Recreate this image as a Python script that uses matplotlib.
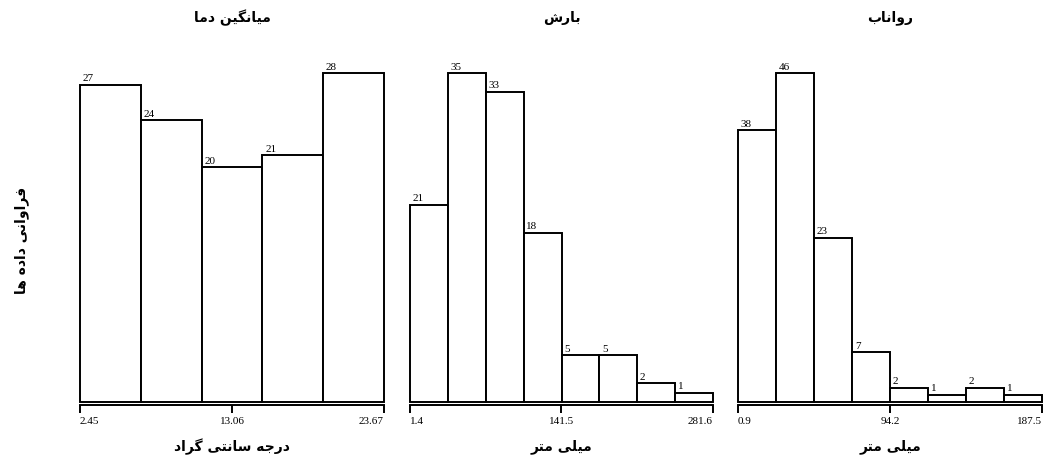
import numpy as np
import matplotlib.pyplot as plt

# Data
titles = ['میانگین دما', 'بارش', 'رواناب']
xlabels = ['درجه سانتی گراد', 'میلی متر', 'میلی متر']
ylabel = 'فراوانی داده ها'

temp_counts = [27, 24, 20, 21, 28]
rain_counts = [21, 35, 33, 18, 5, 5, 2, 1]
runoff_counts = [38, 46, 23, 7, 2, 1, 2, 1]

temp_range = [2.45, 23.67]
rain_range = [1.4, 281.6]
runoff_range = [0.9, 187.5]

temp_ticks = ['2.45', '13.06', '23.67']
rain_ticks = ['1.4', '141.5', '281.6']
runoff_ticks = ['0.9', '94.2', '187.5']

# minimal arabic shaping (matplotlib has no complex text layout)
# char: (isolated, final, initial, medial) ; None = does not join to next
FORMS = {
    'ا': (0xFE8D, 0xFE8E, None, None),
    'ب': (0xFE8F, 0xFE90, 0xFE91, 0xFE92),
    'ت': (0xFE95, 0xFE96, 0xFE97, 0xFE98),
    'ج': (0xFE9D, 0xFE9E, 0xFE9F, 0xFEA0),
    'د': (0xFEA9, 0xFEAA, None, None),
    'ر': (0xFEAD, 0xFEAE, None, None),
    'س': (0xFEB1, 0xFEB2, 0xFEB3, 0xFEB4),
    'ش': (0xFEB5, 0xFEB6, 0xFEB7, 0xFEB8),
    'ف': (0xFED1, 0xFED2, 0xFED3, 0xFED4),
    'ل': (0xFEDD, 0xFEDE, 0xFEDF, 0xFEE0),
    'م': (0xFEE1, 0xFEE2, 0xFEE3, 0xFEE4),
    'ن': (0xFEE5, 0xFEE6, 0xFEE7, 0xFEE8),
    'ه': (0xFEE9, 0xFEEA, 0xFEEB, 0xFEEC),
    'و': (0xFEED, 0xFEEE, None, None),
    'ی': (0xFBFC, 0xFBFD, 0xFBFE, 0xFBFF),
    'گ': (0xFB92, 0xFB93, 0xFB94, 0xFB95),
}


def shape(s):
    out = []
    for i, c in enumerate(s):
        if c not in FORMS:
            out.append(c)
            continue
        f = FORMS[c]
        prev = s[i-1] if i > 0 else ''
        nxt = s[i+1] if i < len(s)-1 else ''
        jp = prev in FORMS and FORMS[prev][2] is not None
        jn = f[2] is not None and nxt in FORMS
        if jp and jn:
            code = f[3]
        elif jp:
            code = f[1]
        elif jn:
            code = f[2]
        else:
            code = f[0]
        out.append(chr(code))
    return ''.join(out)[::-1]


fig = plt.figure(figsize=(10.45, 4.66), dpi=100)
W, H = 1045, 466

panels = [
    (temp_counts, temp_range, temp_ticks, 80, 384),
    (rain_counts, rain_range, rain_ticks, 410, 713),
    (runoff_counts, runoff_range, runoff_ticks, 738, 1042),
]

serif = 'Liberation Serif'
for k, (counts, rng, ticks, x0, x1) in enumerate(panels):
    ax = fig.add_axes([x0/W, (H-402)/H, (x1-x0)/W, (402-73)/H])
    n = len(counts)
    edges = np.linspace(rng[0], rng[1], n+1)
    width = edges[1] - edges[0]
    ax.bar(edges[:-1], counts, width=width, align='edge', color='white',
           edgecolor='black', linewidth=1.4, clip_on=False)
    for e, c in zip(edges[:-1], counts):
        ax.annotate(str(c), (e, c), xytext=(2, 1), textcoords='offset points',
                    fontsize=8, family=serif, va='bottom', ha='left')
    ax.set_xlim(rng[0], rng[1])
    ax.set_ylim(0, max(counts))
    for s in ['left', 'top', 'right']:
        ax.spines[s].set_visible(False)
    ax.spines['bottom'].set_position(('outward', 2))
    ax.spines['bottom'].set_linewidth(1.4)
    ax.set_yticks([])
    mid = (rng[0] + rng[1]) / 2
    ax.set_xticks([rng[0], mid, rng[1]])
    ax.set_xticklabels(ticks, family=serif, fontsize=8)
    ax.tick_params(axis='x', length=6, width=1.4, pad=3)
    labs = ax.get_xticklabels()
    labs[0].set_ha('left')
    labs[2].set_ha('right')
    cx = (x0 + x1) / 2 / W
    fig.text(cx, 1 - 18/H, shape(titles[k]), ha='center', va='center',
             fontsize=10, fontweight='bold', family='DejaVu Sans')
    fig.text(cx, 1 - 447/H, shape(xlabels[k]), ha='center', va='center',
             fontsize=10, fontweight='bold', family='DejaVu Sans')

fig.text(22/W, 1 - 240/H, shape(ylabel), ha='center', va='center', rotation=90,
         fontsize=10, fontweight='bold', family='DejaVu Sans')

fig.savefig('out.png', dpi=100, facecolor='white')
